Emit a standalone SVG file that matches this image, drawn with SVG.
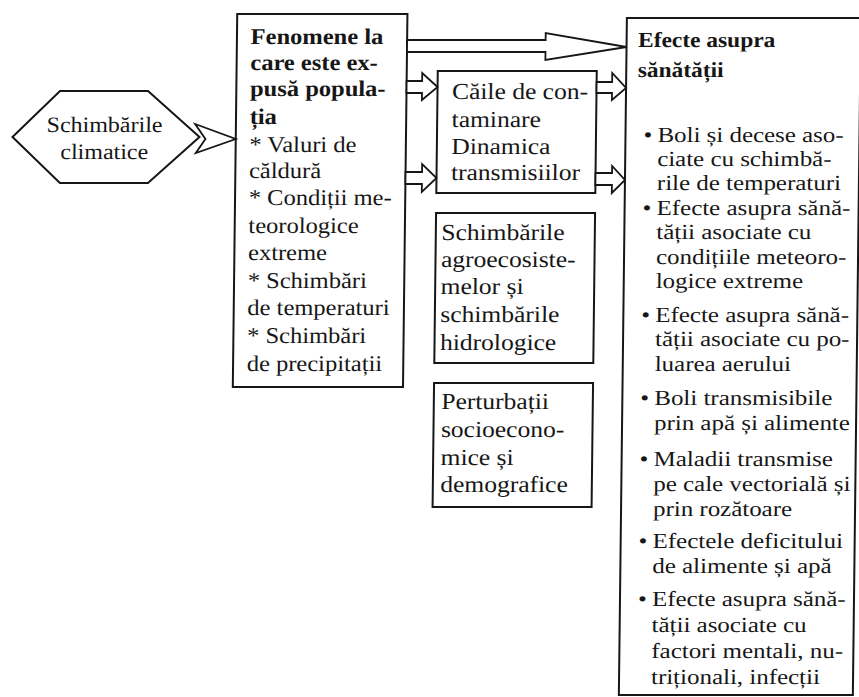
<svg xmlns="http://www.w3.org/2000/svg" width="859" height="697" viewBox="0 0 859 697">
<style>
.box{fill:#fff;stroke:#161616;stroke-width:2}
.arr{fill:#fff;stroke:#161616;stroke-width:1.8;stroke-linejoin:miter}
text{font-family:"Liberation Serif","Times New Roman",serif;fill:#161616}
.h{font-size:22px}
.f{font-size:22.5px}
.m{font-size:23px}
.e{font-size:21.5px}
.b{font-weight:bold}
.tb{font-size:21.5px;font-weight:bold}
</style>
<rect width="859" height="697" fill="#fff"/>
<g transform="translate(4.1,0) skewX(-0.68)">
<g id="node-schimbarile-climatice">
<polygon class="box" points="10,137 57,91 145,91 197,137 146,183 58,183"/>
<text class="h" text-anchor="middle" transform="matrix(1.09,0,0,1,-9.18,0)"><tspan x="102" y="132">Schimbările</tspan><tspan x="102" y="159">climatice</tspan></text>
</g>
<g id="node-fenomene">
<rect class="box" x="233.3" y="14" width="170.2" height="373"/>
<text class="f" transform="matrix(1.09,0,0,1,-22.23,0)">
<tspan class="b" x="247" y="44">Fenomene la</tspan>
<tspan class="b" x="247" y="70">care este ex-</tspan>
<tspan class="b" x="247" y="96">pusă popula-</tspan>
<tspan class="b" x="247" y="124">ția</tspan>
<tspan x="247" y="152">* Valuri de</tspan>
<tspan x="247" y="178">căldură</tspan>
<tspan x="247" y="205">* Condiții me-</tspan>
<tspan x="247" y="233">teorologice</tspan>
<tspan x="247" y="260">extreme</tspan>
<tspan x="247" y="288">* Schimbări</tspan>
<tspan x="247" y="315">de temperaturi</tspan>
<tspan x="247" y="343">* Schimbări</tspan>
<tspan x="247" y="371">de precipitații</tspan>
</text>
</g>
<g id="node-caile">
<rect class="box" x="434.5" y="71" width="159" height="122"/>
<text class="m" transform="matrix(1.11,0,0,1,-49.39,0)">
<tspan x="449" y="99">Căile de con-</tspan>
<tspan x="449" y="127">taminare</tspan>
<tspan x="449" y="154">Dinamica</tspan>
<tspan x="449" y="180">transmisiilor</tspan>
</text>
</g>
<g id="node-agroecosisteme">
<rect class="box" x="434.5" y="213" width="159" height="150"/>
<text class="m" transform="matrix(1.11,0,0,1,-48.4,0)">
<tspan x="440" y="240">Schimbările</tspan>
<tspan x="440" y="267">agroecosiste-</tspan>
<tspan x="440" y="294">melor și</tspan>
<tspan x="440" y="322">schimbările</tspan>
<tspan x="440" y="350">hidrologice</tspan>
</text>
</g>
<g id="node-perturbatii">
<rect class="box" x="434.5" y="383" width="159" height="124"/>
<text class="m" transform="matrix(1.11,0,0,1,-48.62,0)">
<tspan x="442" y="409">Perturbații</tspan>
<tspan x="442" y="437">socioecono-</tspan>
<tspan x="442" y="465">mice și</tspan>
<tspan x="442" y="492">demografice</tspan>
</text>
</g>
<g id="node-efecte">
<rect class="box" x="623" y="18" width="234" height="677"/>
<text class="tb" transform="matrix(1.09,0,0,1,-57.1,0)"><tspan x="634.5" y="47">Efecte asupra</tspan><tspan x="634.5" y="77">sănătății</tspan></text>
<text class="e" transform="matrix(1.16,0,0,1,-102.56,0)">
<tspan x="641" y="142">•</tspan><tspan x="653.07" y="142">Boli și decese aso-</tspan>
<tspan x="653.07" y="166">ciate cu schimbă-</tspan>
<tspan x="653.07" y="190">rile de temperaturi</tspan>
<tspan x="641" y="215">•</tspan><tspan x="653.07" y="215">Efecte asupra sănă-</tspan>
<tspan x="653.07" y="239.5">tății asociate cu</tspan>
<tspan x="653.07" y="264">condițiile meteoro-</tspan>
<tspan x="653.07" y="288">logice extreme</tspan>
<tspan x="641" y="322">•</tspan><tspan x="653.07" y="322">Efecte asupra sănă-</tspan>
<tspan x="653.07" y="346.5">tății asociate cu po-</tspan>
<tspan x="653.07" y="371">luarea aerului</tspan>
<tspan x="641" y="405">•</tspan><tspan x="653.07" y="405">Boli transmisibile</tspan>
<tspan x="653.07" y="430">prin apă și alimente</tspan>
<tspan x="641" y="466">•</tspan><tspan x="653.07" y="466">Maladii transmise</tspan>
<tspan x="653.07" y="491">pe cale vectorială și</tspan>
<tspan x="653.07" y="516">prin rozătoare</tspan>
<tspan x="641" y="548">•</tspan><tspan x="653.07" y="548">Efectele deficitului</tspan>
<tspan x="653.07" y="573">de alimente și apă</tspan>
<tspan x="641" y="606">•</tspan><tspan x="653.07" y="606">Efecte asupra sănă-</tspan>
<tspan x="653.07" y="632">tății asociate cu</tspan>
<tspan x="653.07" y="658">factori mentali, nu-</tspan>
<tspan x="653.07" y="684">triționali, infecții</tspan>
</text>
</g>
<g id="connectors">
<path class="arr" d="M192.5,124 L233.3,139 L193.5,153 L203,139 Z"/>
<path class="arr" d="M403.5,40 L542,40 L542,33 L623,47 L542,60 L542,52 L403.5,52 Z"/>
<path class="arr" d="M403.5,81 L419,81 L419,73 L434.5,87 L419,100 L419,93 L403.5,93 Z"/>
<path class="arr" d="M403.5,172 L420,172 L420,164 L434.5,178 L420,192 L420,184 L403.5,184 Z"/>
<path class="arr" d="M593.5,82 L609,82 L609,73 L623,88 L609,100 L609,93 L593.5,93 Z"/>
<path class="arr" d="M593.5,173 L610,173 L610,166 L623,180 L610,193 L610,185 L593.5,185 Z"/>
</g>
</g>
</svg>
